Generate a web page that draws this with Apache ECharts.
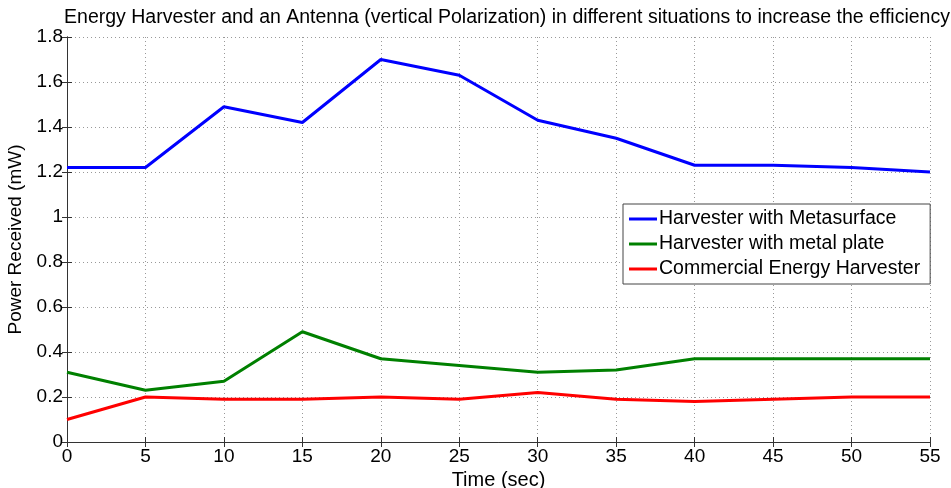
<!DOCTYPE html>
<html><head><meta charset="utf-8">
<script src="https://cdn.jsdelivr.net/npm/echarts@6/dist/echarts.min.js"></script>
<style>html,body{margin:0;padding:0;background:#fff}#c{width:951px;height:488px}</style>
</head><body><div id="c"></div>
<script>
const timeSec = [0, 5, 10, 15, 20, 25, 30, 35, 40, 45, 50, 55];
const metasurface = [1.22, 1.22, 1.49, 1.42, 1.70, 1.63, 1.43, 1.35, 1.23, 1.23, 1.22, 1.20];
const metalPlate = [0.31, 0.23, 0.27, 0.49, 0.37, 0.34, 0.31, 0.32, 0.37, 0.37, 0.37, 0.37];
const commercial = [0.10, 0.20, 0.19, 0.19, 0.20, 0.19, 0.22, 0.19, 0.18, 0.19, 0.20, 0.20];
const seriesNames = ['Harvester with Metasurface', 'Harvester with metal plate', 'Commercial Energy Harvester'];
const yTicks = [0, 0.2, 0.4, 0.6, 0.8, 1, 1.2, 1.4, 1.6, 1.8];

const font = 'Liberation Sans, Arial, sans-serif';
const chart = echarts.init(document.getElementById('c'));
const pairs = arr => timeSec.map((t, i) => [t, arr[i]]);
const axisLine = {show: true, lineStyle: {color: '#333', width: 1}};
const tickIn = {show: true, inside: true, length: 5, lineStyle: {color: '#333'}};
const gridLine = {show: true, lineStyle: {color: '#999', type: [1, 3], width: 1}};
chart.setOption({
  animation: false,
  title: {
    text: 'Energy Harvester and an Antenna (vertical Polarization) in different situations to increase the efficiency',
    left: 502, top: 3, textAlign: 'center',
    textStyle: {fontFamily: font, fontWeight: 'normal', fontSize: 19.5, color: '#000'}
  },
  grid: {left: 67, top: 37, right: 21, bottom: 46, outerBoundsMode: 'none', containLabel: false},
  xAxis: [{
    type: 'value', min: 0, max: 55, interval: 5,
    name: 'Time (sec)', nameLocation: 'middle', nameGap: 26,
    nameTextStyle: {fontFamily: font, fontSize: 20, color: '#000'},
    axisLine, axisTick: tickIn, splitLine: gridLine,
    axisLabel: {fontFamily: font, fontSize: 19, color: '#000', margin: 5}
  }, {
    type: 'value', position: 'top', min: 0, max: 55, interval: 5,
    axisLine, axisTick: tickIn, splitLine: {show: false}, axisLabel: {show: false}
  }],
  yAxis: [{
    type: 'value', min: 0, max: 1.8, interval: 0.2,
    name: 'Power Received (mW)', nameLocation: 'middle', nameGap: 38,
    nameTextStyle: {fontFamily: font, fontSize: 19, color: '#000'},
    axisLine, axisTick: tickIn, splitLine: gridLine,
    axisLabel: {fontFamily: font, fontSize: 19, color: '#000', margin: 4,
      formatter: v => { const t = yTicks.find(y => Math.abs(y - v) < 1e-6); return t === undefined ? '' : String(t); }}
  }, {
    type: 'value', position: 'right', min: 0, max: 1.8, interval: 0.2,
    axisLine, axisTick: tickIn, splitLine: {show: false}, axisLabel: {show: false}
  }],
  legend: {
    orient: 'vertical', left: 623, top: 204, width: 307,
    padding: [5, 10, 5, 6], itemGap: 5,
    backgroundColor: '#fff', borderColor: '#444', borderWidth: 1,
    icon: 'rect', itemWidth: 28, itemHeight: 3,
    textStyle: {fontFamily: font, fontSize: 19.5, color: '#000', padding: [0, 0, 0, -3]},
    data: seriesNames
  },
  series: [
    {name: seriesNames[0], type: 'line', data: pairs(metasurface), color: '#0000ff', symbol: 'none', lineStyle: {width: 3}},
    {name: seriesNames[1], type: 'line', data: pairs(metalPlate), color: '#008000', symbol: 'none', lineStyle: {width: 3}},
    {name: seriesNames[2], type: 'line', data: pairs(commercial), color: '#ff0000', symbol: 'none', lineStyle: {width: 3}}
  ]
});
</script></body></html>
